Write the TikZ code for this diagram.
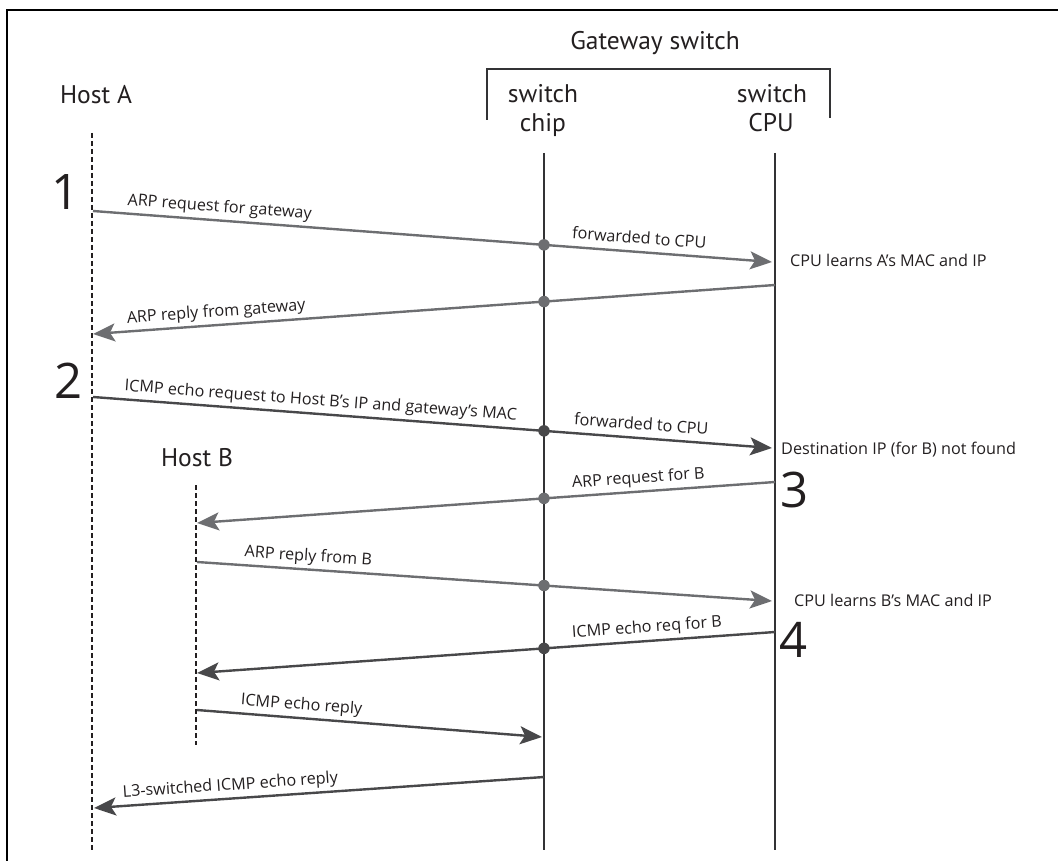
\documentclass[tikz,border=0pt]{standalone}
\usepackage{fontspec}
\newfontfamily\lblfont{Open Sans}
\newfontfamily\headfont{PT Sans}
\usetikzlibrary{arrows.meta}
\definecolor{ink}{HTML}{231F20}
\definecolor{lifeln}{HTML}{333335}
\definecolor{arpgray}{HTML}{6D6E71}
\definecolor{icmpgray}{HTML}{48484A}

\begin{document}
\begin{tikzpicture}[x=1pt,y=-1pt,
  head/.style={font=\headfont\fontsize{25.5}{29}\selectfont, text=ink, inner sep=0pt, anchor=base},
  lbl/.style={font=\lblfont\fontsize{16.2}{19}\selectfont, text=ink, inner sep=0pt,
              text depth=4pt, sloped, above=3.3pt},
  note/.style={font=\lblfont\fontsize{16.2}{19}\selectfont, text=ink, inner sep=0pt, anchor=base west},
  stepnum/.style={font=\lblfont\fontsize{49}{50}\selectfont, text=ink, inner sep=0pt, anchor=base},
  life/.style={draw=lifeln, line width=2.8pt},
  hostline/.style={draw=ink, line width=2.4pt, dash pattern=on 5pt off 3pt},
  msgarp/.style={draw=arpgray, line width=2.4pt, -{Stealth[length=22pt,width=18pt,inset=5pt]}},
  msgicmp/.style={msgarp, draw=icmpgray},
  dot/.style={circle, fill=#1, draw=none, inner sep=0pt, minimum size=11.5pt},
  dot/.default=arpgray,
]
\useasboundingbox (0,0) rectangle (1058,861);

% frame
\draw[line width=2.4pt] (7,861) -- (7,10) -- (1058,10);

% headings
\node[head] (gw) at (655,50) {Gateway switch};
\node[head] (hostA) at (96,104) {Host A};
\node[head] (chip1) at (543,103) {switch};
\node[head] (chip2) at (543,132) {chip};
\node[head] (cpu1) at (772,103) {switch};
\node[head] (cpu2) at (771,132) {CPU};
\node[head] (hostB) at (197,466) {Host B};

% bracket over the gateway switch
\draw[draw=lifeln, line width=2.4pt] (487,120) -- (487,69) -- (830,69) -- (830,118);

% lifelines
\coordinate (At) at (92,133);  \coordinate (Ab) at (92,851);
\coordinate (Bt) at (196,485); \coordinate (Bb) at (196,745);
\coordinate (Ct) at (544,153); \coordinate (Cb) at (544,850);
\coordinate (Pt) at (775,153); \coordinate (Pb) at (775,850);
\draw[hostline] (At) -- (Ab);
\draw[hostline] (Bt) -- (Bb);
\draw[life] (Ct) -- (Cb);
\draw[life] (Pt) -- (Pb);

% message end points
\coordinate (a1) at (93,211);  \coordinate (c1) at (772,262);
\coordinate (c2) at (775,285); \coordinate (a2) at (93,334);
\coordinate (a3) at (93,397);  \coordinate (c3) at (772,448);
\coordinate (c4) at (775,482); \coordinate (b4) at (197,523);
\coordinate (b5) at (197,562); \coordinate (c5) at (772,601);
\coordinate (c6) at (775,632); \coordinate (b6) at (197,673);
\coordinate (b7) at (197,710); \coordinate (h7) at (542,737);
\coordinate (h8) at (544,777); \coordinate (a8) at (94,808);

% messages
\draw[msgarp] (a1) -- node[lbl,pos=0.185] (l1) {ARP request for gateway}
                     node[lbl,pos=0.803] (l1b) {forwarded to CPU} (c1);
\draw[msgarp] (c2) -- node[lbl,pos=0.818] (l2) {ARP reply from gateway} (a2);
\draw[msgicmp] (a3) -- node[lbl,pos=0.334] (l3) {ICMP echo request to Host B’s IP and gateway’s MAC}
                      node[lbl,pos=0.806] (l3b) {forwarded to CPU} (c3);
\draw[msgarp] (c4) -- node[lbl,pos=0.235] (l4) {ARP request for B} (b4);
\draw[msgarp] (b5) -- node[lbl,pos=0.192] (l5) {ARP reply from B} (c5);
\draw[msgicmp] (c6) -- node[lbl,pos=0.22] (l6) {ICMP echo req for B} (b6);
\draw[msgicmp] (b7) -- node[lbl,pos=0.3] (l7) {ICMP echo reply} (h7);
\draw[msgicmp] (h8) -- node[lbl,pos=0.695] (l8) {L3-switched ICMP echo reply} (a8);

% forwarding points on the switch chip
\node[dot] (d1) at (intersection of a1--c1 and Ct--Cb) {};
\node[dot] (d2) at (intersection of c2--a2 and Ct--Cb) {};
\node[dot=icmpgray] (d3) at (intersection of a3--c3 and Ct--Cb) {};
\node[dot] (d4) at (intersection of c4--b4 and Ct--Cb) {};
\node[dot] (d5) at (intersection of b5--c5 and Ct--Cb) {};
\node[dot=icmpgray] (d6) at (intersection of c6--b6 and Ct--Cb) {};

% CPU notes
\node[note] (n1) at (790,267) {CPU learns A’s MAC and IP};
\node[note] (n2) at (781,454) {Destination IP (for B) not found};
\node[note] (n3) at (794,606) {CPU learns B’s MAC and IP};

% step numbers
\node[stepnum] (s1) at (66,210) {1};
\node[stepnum] (s2) at (69,398) {2};
\node[stepnum,anchor=base west] (s3) at (780,507) {3};
\node[stepnum,anchor=base west] (s4) at (779,657) {4};
\end{tikzpicture}
\end{document}
